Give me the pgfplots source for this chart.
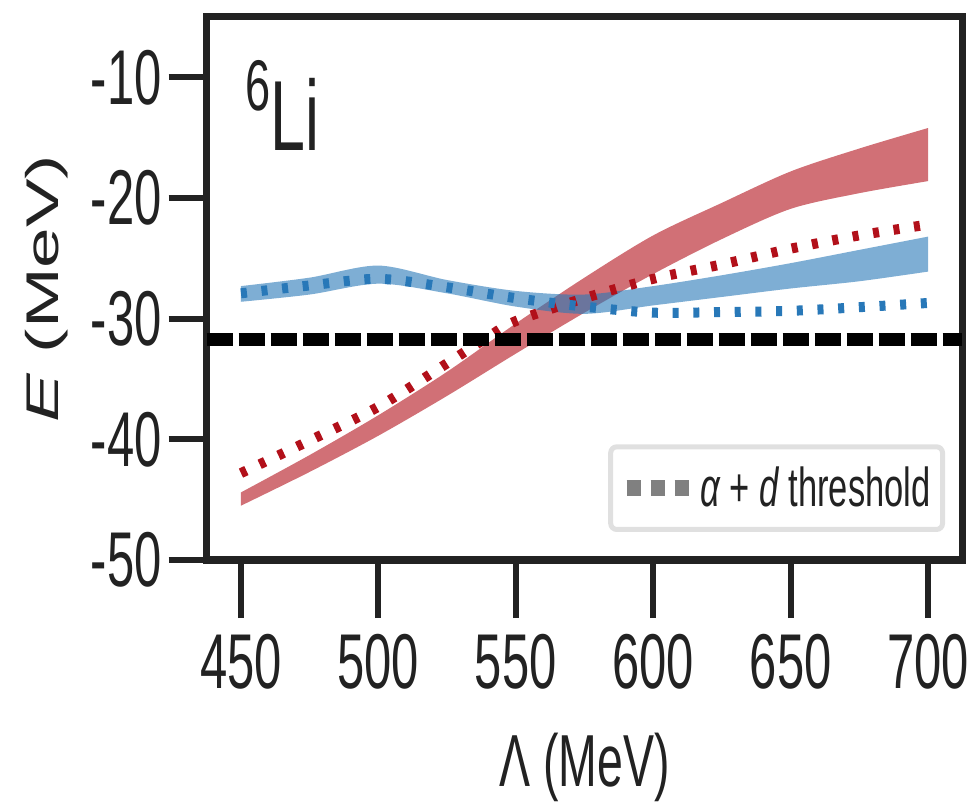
\documentclass[border=0pt]{standalone}
\usepackage{fontspec}
\setmainfont{Liberation Sans}[FakeStretch=0.63]
\newfontfamily\ylabfont{Liberation Sans}[FakeStretch=1.59]
\usepackage{pgfplots}
\usepackage{pgfplotstable}
\pgfplotsset{compat=1.18}
\usepgfplotslibrary{fillbetween}
\definecolor{redc}{RGB}{178,16,26}
\definecolor{bluec}{RGB}{40,120,184}
\definecolor{axgray}{RGB}{34,34,34}
\pgfplotstableread{
L rlo rhi blo bhi
450 -45.5 -44.4 -28.6 -27.3
475 -42.7 -41.3 -28.0 -26.6
500 -39.7 -38.0 -27.1 -25.6
525 -36.4 -34.4 -27.9 -26.8
550 -32.9 -30.4 -29.0 -27.7
575 -29.5 -26.6 -29.6 -28.0
600 -26.3 -23.1 -28.9 -27.3
625 -23.4 -20.4 -28.2 -26.4
650 -20.9 -17.8 -27.5 -25.4
675 -19.6 -15.9 -26.9 -24.3
700 -18.6 -14.2 -26.1 -23.2
}\bands
\pgfplotstableread{
L E
450 -42.8
475 -40.1
500 -37.3
525 -33.7
540 -31.5
550 -30.2
575 -28.3
600 -26.7
625 -25.5
650 -24.2
675 -23.1
700 -22.2
}\reddots
\pgfplotstableread{
L E
450 -27.9
475 -27.25
500 -26.7
525 -27.4
550 -28.3
575 -29.0
600 -29.5
625 -29.45
650 -29.35
675 -29.05
700 -28.7
}\bluedots
\pgfplotsset{
  common/.style={
    scale only axis, width=377.9bp, height=271.5bp,
    xmin=437.5, xmax=712.5, ymin=-50, ymax=-5,
    axis line style={line width=3.5bp, axgray},
    tick style={line width=3bp, axgray},
    tick align=outside,
    /pgf/number format/assume math mode=true,
    ticklabel style={font=\fontsize{39}{39}\selectfont, text=axgray},
  }
}
\begin{document}
\begin{tikzpicture}
\begin{axis}[
  common, name=ax, at={(0,0)}, anchor=south west,
  major tick length=19bp,
  xtick=\empty, ytick pos=left,
  ytick={-50,-40,-30,-20,-10},
  yticklabels={-50,-40,-30,-20,-10},
  xlabel={Λ (MeV)},
  xlabel style={font=\fontsize{37}{37}\selectfont, text=axgray, at={(axis description cs:0.5,-0.418)}, anchor=base},
  ylabel={{\ylabfont\fontsize{23}{23}\selectfont\itshape E\upshape\ (MeV)}},
  ylabel style={text=axgray, at={(axis description cs:-0.2117,0.5)}, anchor=center},
  legend style={at={(axis description cs:0.977,0.0516)}, anchor=south east,
    draw=black!12, line width=2.5bp, rounded corners=3bp, fill=white,
    font=\fontsize{27.5}{27.5}\selectfont, text=axgray,
    inner xsep=4bp, inner ysep=8bp},
]
\addplot[name path=rlo, draw=none, smooth, forget plot] table[x=L,y=rlo]{\bands};
\addplot[name path=rhi, draw=none, smooth, forget plot] table[x=L,y=rhi]{\bands};
\addplot[name path=blo, draw=none, smooth, forget plot] table[x=L,y=blo]{\bands};
\addplot[name path=bhi, draw=none, smooth, forget plot] table[x=L,y=bhi]{\bands};
\addplot[fill=redc, fill opacity=0.6, draw=none, forget plot] fill between[of=rhi and rlo];
\addplot[fill=bluec, fill opacity=0.6, draw=none, forget plot] fill between[of=bhi and blo];
\addplot[redc, line width=5bp, dash pattern=on 3bp off 7.35bp, smooth, forget plot] table[x=L,y=E]{\reddots};
\addplot[bluec, line width=5bp, dash pattern=on 3bp off 7.35bp, smooth, forget plot] table[x=L,y=E]{\bluedots};
\addplot[black, line width=6.5bp, dash pattern=on 13bp off 3bp, forget plot] coordinates {(437.5,-31.7) (712.5,-31.7)};
\addlegendimage{legend image code/.code={\draw[black!50, line width=8bp, dash pattern=on 7bp off 5bp] (-5bp,0bp) -- (26bp,0bp);}}
\addlegendentry{\itshape α\upshape\ + \itshape d\upshape\ threshold}
\node[anchor=base west, inner sep=0pt, text=axgray] at (rel axis cs:0.0508,0.755) {\raisebox{20bp}{\fontsize{36}{36}\selectfont 6}\fontsize{50}{50}\selectfont Li};
\end{axis}
\begin{axis}[
  common, at={(0,0)}, anchor=south west,
  major tick length=29bp,
  hide y axis, xtick pos=bottom,
  xtick={450,500,550,600,650,700},
  xticklabel style={yshift=-4.5bp},
]
\end{axis}
\pgfresetboundingbox
\path[use as bounding box] ([shift={(-103.3bp,-121.5bp)}]ax.south west) rectangle ([shift={(380.2bp,280bp)}]ax.south west);
\end{tikzpicture}
\end{document}
